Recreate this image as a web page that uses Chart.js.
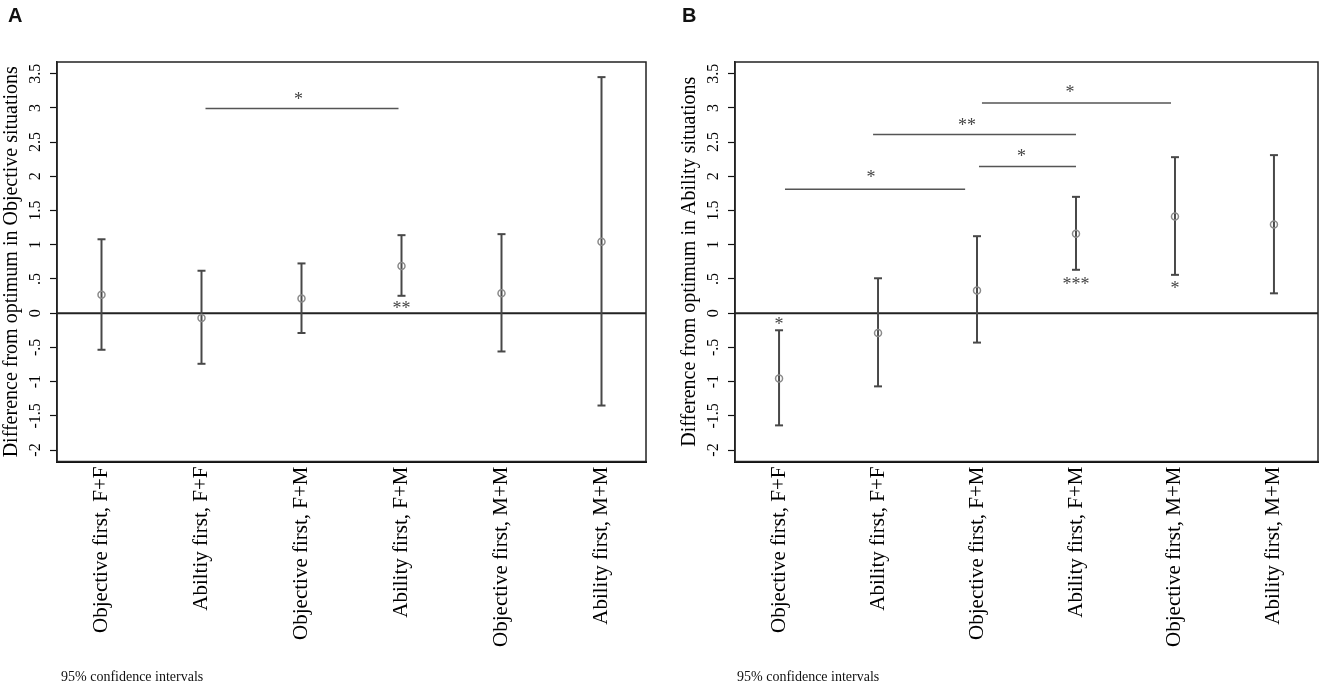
<!DOCTYPE html>
<html>
<head>
<meta charset="utf-8">
<script src="https://cdn.jsdelivr.net/npm/chart.js@4.4.0/dist/chart.umd.min.js"></script>
<style>
  html, body { margin: 0; padding: 0; background: #fff; }
  body { width: 1325px; height: 686px; position: relative; overflow: hidden; }
  .panel { position: absolute; top: 0; height: 686px; }
  #panelA { left: 0; width: 660px; }
  #panelB { left: 660px; width: 665px; }
  .tag { position: absolute; top: 5px; font: bold 20px "Liberation Sans", Arial, sans-serif; line-height: 20px; color: #111; }
  .note { position: absolute; top: 670px; font: 14px "Liberation Serif", serif; line-height: 14px; color: #111; white-space: nowrap; }
</style>
</head>
<body>
<div class="panel" id="panelA"><canvas id="chartA"></canvas></div>
<div class="panel" id="panelB"><canvas id="chartB"></canvas></div>
<div class="tag" style="left:8px">A</div>
<div class="tag" style="left:682px">B</div>
<div class="note" style="left:61px">95% confidence intervals</div>
<div class="note" style="left:737px">95% confidence intervals</div>
<script>
var SERIF = '"Liberation Serif", "Times New Roman", serif';

var groupPos = [1, 2, 3, 4, 5, 6];
var labelsA = ["Objective first, F+F", "Abiltiy first, F+F", "Objective first, F+M",
  "Ability first, F+M", "Objective first, M+M", "Ability first, M+M"];
var labelsB = ["Objective first, F+F", "Ability first, F+F", "Objective first, F+M",
  "Ability first, F+M", "Objective first, M+M", "Ability first, M+M"];

var yTicks = [-2, -1.5, -1, -0.5, 0, 0.5, 1, 1.5, 2, 2.5, 3, 3.5];
var yTickLabels = ["-2", "-1.5", "-1", "-.5", "0", ".5", "1", "1.5", "2", "2.5", "3", "3.5"];

// panel A - objective situations
var meanA = [0.27, -0.07, 0.215, 0.69, 0.29, 1.045];
var lowA = [-0.535, -0.74, -0.29, 0.254, -0.56, -1.35];
var highA = [1.08, 0.62, 0.727, 1.14, 1.155, 3.45];

// panel B - ability situations
var meanB = [-0.955, -0.29, 0.33, 1.16, 1.414, 1.297];
var lowB = [-1.64, -1.07, -0.43, 0.634, 0.56, 0.29];
var highB = [-0.25, 0.51, 1.125, 1.70, 2.28, 2.31];

// brackets: from group, to group, height, stars, star x, star y
var bracketsA = [[2.04, 3.97, 2.99, "*", 2.97, 3.16]];
var bracketsB = [
  [3.05, 4.96, 3.07, "*", 3.94, 3.26],
  [1.95, 4.0, 2.61, "**", 2.9, 2.79],
  [3.02, 4.0, 2.145, "*", 3.45, 2.33],
  [1.06, 2.88, 1.81, "*", 1.93, 2.02]
];
// stars next to single estimates: group, y, stars
var starsA = [[4, 0.11, "**"]];
var starsB = [[1, -0.12, "*"], [4, 0.46, "***"], [5, 0.40, "*"]];

function ciPlugin(low, high, brackets, stars) {
  return {
    id: "ciPlot",
    beforeDatasetsDraw: function(chart) {
      var ctx = chart.ctx, xs = chart.scales.x, ys = chart.scales.y, a = chart.chartArea;
      function seg(x1, y1, x2, y2) {
        ctx.beginPath(); ctx.moveTo(x1, y1); ctx.lineTo(x2, y2); ctx.stroke();
      }
      ctx.save();
      // plot box
      ctx.strokeStyle = "#222";
      ctx.lineWidth = 1.5;
      ctx.strokeRect(a.left, a.top, a.right - a.left, a.bottom - a.top);
      // zero line
      var y0 = ys.getPixelForValue(0);
      ctx.lineWidth = 2;
      seg(a.left, y0, a.right, y0);
      // confidence intervals
      ctx.strokeStyle = "#484848";
      ctx.lineWidth = 2;
      groupPos.forEach(function(g, i) {
        var x = xs.getPixelForValue(g);
        var yl = ys.getPixelForValue(low[i]), yh = ys.getPixelForValue(high[i]);
        seg(x, yl, x, yh);
        seg(x - 4, yl, x + 4, yl);
        seg(x - 4, yh, x + 4, yh);
      });
      // significance brackets
      ctx.strokeStyle = "#555";
      ctx.lineWidth = 1.5;
      ctx.fillStyle = "#444";
      ctx.font = "18px " + SERIF;
      ctx.textAlign = "center";
      ctx.textBaseline = "alphabetic";
      brackets.forEach(function(b) {
        var yb = ys.getPixelForValue(b[2]);
        seg(xs.getPixelForValue(b[0]), yb, xs.getPixelForValue(b[1]), yb);
        ctx.fillText(b[3], xs.getPixelForValue(b[4]), ys.getPixelForValue(b[5]) + 18 * 0.46);
      });
      stars.forEach(function(s) {
        ctx.fillText(s[2], xs.getPixelForValue(s[0]), ys.getPixelForValue(s[1]) + 18 * 0.46);
      });
      ctx.restore();
    }
  };
}

function makeChart(id, labels, mean, low, high, brackets, stars, title, axisWidth, titlePad, rightPad) {
  return new Chart(id, {
    type: "scatter",
    data: {
      datasets: [{
        data: groupPos.map(function(g, i) { return { x: g, y: mean[i] }; }),
        pointStyle: "circle",
        pointRadius: 3.5,
        borderColor: "#8a8a8a",
        borderWidth: 1.5,
        backgroundColor: "rgba(0,0,0,0)"
      }]
    },
    options: {
      responsive: true,
      maintainAspectRatio: false,
      animation: false,
      layout: { padding: { top: 62, right: rightPad, left: 0, bottom: 0 } },
      plugins: { legend: { display: false }, tooltip: { enabled: false } },
      scales: {
        x: {
          type: "linear",
          min: 0.555,
          max: 6.445,
          afterBuildTicks: function(s) { s.ticks = groupPos.map(function(v) { return { value: v }; }); },
          afterFit: function(s) { s.height = 224.5; },
          grid: { display: false, drawTicks: false },
          border: { display: true, color: "#111", width: 2 },
          ticks: {
            minRotation: 90, maxRotation: 90, autoSkip: false, padding: 5, color: "#000",
            font: { family: SERIF, size: 21 },
            callback: function(v, i) { return labels[i]; }
          }
        },
        y: {
          min: -2.168,
          max: 3.671,
          afterBuildTicks: function(s) { s.ticks = yTicks.map(function(v) { return { value: v }; }); },
          afterFit: function(s) { s.width = axisWidth; },
          grid: { drawOnChartArea: false, drawTicks: true, tickLength: 7, color: "#111", tickWidth: 1.2 },
          border: { display: true, color: "#222", width: 1.5 },
          ticks: {
            minRotation: 90, crossAlign: "center", padding: 2, autoSkip: false, color: "#000",
            font: { family: SERIF, size: 16 },
            callback: function(v, i) { return yTickLabels[i]; }
          },
          title: {
            display: true, text: title, color: "#000",
            font: { family: SERIF, size: 20, lineHeight: 1.15 },
            padding: { top: titlePad, bottom: 0 }
          }
        }
      }
    },
    plugins: [ciPlugin(low, high, brackets, stars)]
  });
}

makeChart("chartA", labelsA, meanA, lowA, highA, bracketsA, starsA,
  "Difference from optimum in Objective situations", 57, 0, 14);
makeChart("chartB", labelsB, meanB, lowB, highB, bracketsB, starsB,
  "Difference from optimum in Ability situations", 75, 18.5, 7);
</script>
</body>
</html>
